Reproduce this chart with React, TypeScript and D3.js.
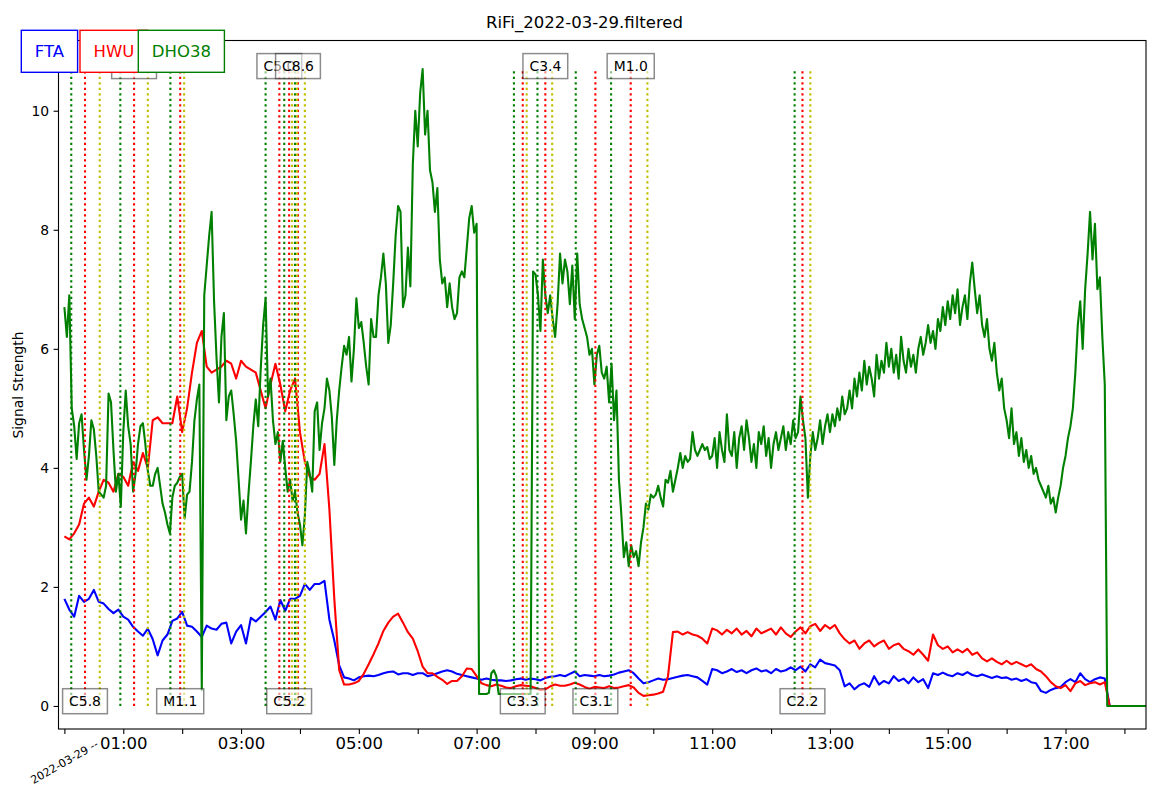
import React, { useEffect, useRef } from 'react';
import * as d3 from 'd3';

const WIDTH = 1169;
const HEIGHT = 792;

const DAY = '2022-03-29';

// FTA and HWU: one sample every 5 minutes from 00:00, one row per hour
const fta = [
  1.8, 1.62, 1.5, 1.85, 1.75, 1.8, 1.95, 1.75, 1.72, 1.63, 1.56, 1.62,
  1.5, 1.45, 1.33, 1.25, 1.18, 1.3, 1.12, 0.85, 1.1, 1.2, 1.43, 1.47,
  1.58, 1.35, 1.33, 1.25, 1.16, 1.35, 1.3, 1.28, 1.38, 1.4, 1.05, 1.25,
  1.36, 1.05, 1.48, 1.42, 1.5, 1.58, 1.67, 1.45, 1.78, 1.6, 1.8, 1.8,
  1.85, 2.05, 1.95, 2.05, 2.05, 2.1, 1.45, 1.1, 0.68, 0.48, 0.46, 0.43,
  0.48, 0.5, 0.51, 0.5, 0.52, 0.55, 0.57, 0.58, 0.53, 0.55, 0.55, 0.52,
  0.55, 0.55, 0.5, 0.52, 0.55, 0.58, 0.6, 0.58, 0.54, 0.52, 0.5, 0.48,
  0.46, 0.44, 0.46, 0.44, 0.43, 0.43, 0.42, 0.43, 0.45, 0.46, 0.44, 0.46,
  0.45, 0.43, 0.47, 0.49, 0.5, 0.52, 0.5, 0.54, 0.58, 0.5, 0.52, 0.51,
  0.5, 0.52, 0.5, 0.51, 0.53, 0.56, 0.58, 0.6, 0.55, 0.46, 0.38, 0.4,
  0.43, 0.46, 0.44, 0.45, 0.47, 0.49, 0.51, 0.52, 0.5, 0.48, 0.42, 0.36,
  0.62, 0.6, 0.55, 0.58, 0.62, 0.57, 0.6, 0.55, 0.6, 0.63, 0.58, 0.6,
  0.55, 0.62, 0.58, 0.6, 0.65, 0.6, 0.66, 0.58, 0.7, 0.65, 0.78, 0.72,
  0.7, 0.68, 0.6, 0.33, 0.38, 0.28, 0.35, 0.38, 0.32, 0.5, 0.36, 0.42,
  0.38, 0.5, 0.42, 0.46, 0.38, 0.48, 0.4, 0.45, 0.3, 0.55, 0.52, 0.56,
  0.52, 0.5, 0.55, 0.52, 0.57, 0.52, 0.5, 0.53, 0.5, 0.47, 0.5, 0.47,
  0.48, 0.44, 0.46, 0.42, 0.45, 0.4, 0.38, 0.25, 0.22, 0.27, 0.3, 0.32,
  0.4, 0.45, 0.4, 0.55, 0.45, 0.4, 0.45, 0.48, 0.46, 0, 0, 0,
  0, 0, 0, 0, 0, 0,
];

const hwu = [
  2.85, 2.8, 2.9, 3.05, 3.4, 3.5, 3.35, 3.6, 3.8, 3.75, 3.6, 3.9,
  3.85, 3.7, 4.1, 3.95, 4.25, 4.0, 4.8, 4.85, 4.75, 4.75, 4.75, 5.2,
  4.6, 5.0, 5.6, 6.1, 6.3, 5.7, 5.6, 5.65, 5.7, 5.8, 5.75, 5.5,
  5.8, 5.7, 5.65, 5.6, 5.3, 5.0, 5.4, 5.75, 5.4, 4.95, 5.3, 5.5,
  4.6, 4.1, 3.85, 3.8, 3.9, 4.4, 3.3, 1.8, 0.6, 0.36, 0.36, 0.38,
  0.42, 0.54, 0.7, 0.87, 1.05, 1.26, 1.4, 1.5, 1.55, 1.4, 1.24, 1.13,
  0.92, 0.66, 0.55, 0.55, 0.49, 0.44, 0.37, 0.42, 0.42, 0.5, 0.63, 0.62,
  0.5, 0.38, 0.35, 0.33, 0.36, 0.34, 0.31, 0.3, 0.33, 0.35, 0.34, 0.33,
  0.3, 0.27, 0.28, 0.33, 0.36, 0.34, 0.34, 0.36, 0.39, 0.36, 0.32, 0.29,
  0.32, 0.31, 0.3, 0.33, 0.3, 0.31, 0.33, 0.35, 0.31, 0.22, 0.17, 0.18,
  0.19, 0.21, 0.24, 0.5, 1.24, 1.25, 1.2, 1.24, 1.2, 1.18, 1.13, 1.05,
  1.3, 1.27, 1.2, 1.28, 1.22, 1.3, 1.2, 1.26, 1.17, 1.3, 1.22, 1.26,
  1.3, 1.2, 1.32, 1.22, 1.16, 1.25, 1.32, 1.22, 1.34, 1.38, 1.26, 1.36,
  1.3, 1.36, 1.22, 1.12, 1.05, 1.1, 0.96, 1.05, 1.1, 1.0, 1.06, 1.1,
  0.96, 1.02, 1.05, 0.96, 0.92, 0.86, 0.95, 0.86, 0.76, 1.2, 1.02, 0.96,
  1.0, 0.9, 0.95, 0.9, 0.96, 0.86, 0.9, 0.8, 0.75, 0.8, 0.74, 0.7,
  0.76, 0.7, 0.74, 0.7, 0.66, 0.7, 0.62, 0.58, 0.5, 0.4, 0.33, 0.3,
  0.35, 0.25, 0.38, 0.42, 0.35, 0.38, 0.4, 0.36, 0.4, 0, 0, 0,
  0, 0, 0, 0, 0, 0,
];

// DHO38: one sample every 2.5 minutes from 00:00, one row per hour
const dho38 = [
  6.7, 6.2, 6.9, 5.0, 4.7, 4.15, 4.75, 4.9, 4.3, 3.8, 4.2, 4.8, 4.65, 4.2, 3.6, 3.55, 3.5, 3.7, 5.25, 5.1, 4.3, 3.6, 3.9, 3.35,
  4.6, 5.3, 4.7, 4.4, 3.6, 3.9, 4.4, 4.7, 4.75, 4.4, 3.95, 3.7, 3.7, 3.9, 4.0, 3.7, 3.4, 3.25, 3.05, 2.9, 3.5, 3.7, 3.75, 3.85,
  3.9, 3.15, 3.55, 3.6, 4.1, 4.8, 5.15, 5.4, 0.27, 6.9, 7.4, 7.9, 8.3, 6.8, 5.85, 5.1, 6.2, 6.6, 4.8, 5.2, 5.3, 4.9, 4.45, 3.8,
  3.13, 3.45, 2.9, 3.55, 4.1, 4.7, 5.15, 4.7, 5.65, 6.4, 6.85, 5.2, 5.5, 4.8, 4.4, 4.6, 4.1, 4.45, 4.0, 3.6, 3.8, 3.45, 3.6, 3.25,
  3.05, 2.7, 3.2, 4.1, 3.9, 3.6, 4.95, 5.1, 4.3, 4.75, 5.0, 5.5, 5.3, 4.85, 4.05, 4.8, 5.3, 5.7, 6.05, 5.9, 6.2, 5.45, 6.0, 6.85,
  6.35, 6.45, 6.1, 5.7, 5.4, 6.5, 6.2, 6.2, 6.9, 7.2, 7.6, 7.1, 6.1, 6.4, 7.1, 7.9, 8.4, 8.3, 6.7, 6.9, 7.7, 7.05, 9.1, 10.0,
  9.4, 10.3, 10.7, 9.6, 10.0, 9.0, 8.8, 8.3, 8.7, 7.5, 7.1, 7.2, 6.7, 7.1, 6.7, 6.5, 6.6, 7.2, 7.3, 7.2, 7.7, 8.2, 8.4, 7.95,
  8.1, 0.2, 0.2, 0.2, 0.2, 0.22, 0.55, 0.6, 0.5, 0.2, 0.2, 0.2, 0.2, 0.2, 0.2, 0.2, 0.2, 0.2, 0.2, 0.2, 0.2, 0.2, 0.2, 7.3,
  7.25, 6.9, 6.3, 7.5, 6.9, 6.6, 6.9, 6.5, 6.2, 6.75, 7.6, 7.1, 7.5, 7.3, 6.75, 7.4, 6.5, 7.6, 6.75, 6.5, 6.35, 6.2, 5.9, 6.0,
  5.4, 5.9, 6.05, 5.6, 5.5, 5.7, 5.1, 5.75, 4.8, 5.3, 3.8, 3.2, 2.5, 2.75, 2.35, 2.7, 2.5, 2.6, 2.35, 2.75, 3.0, 3.4, 3.3, 3.55,
  3.5, 3.55, 3.7, 3.5, 3.35, 3.8, 3.75, 3.95, 3.6, 3.8, 4.0, 4.25, 4.0, 4.2, 4.1, 4.15, 4.6, 4.3, 4.2, 4.3, 4.4, 4.3, 4.35, 4.15,
  4.2, 4.5, 4.0, 4.6, 4.3, 4.1, 4.9, 4.3, 4.2, 4.6, 4.0, 4.5, 4.7, 4.3, 4.8, 4.5, 4.1, 4.4, 4.0, 4.6, 4.4, 4.7, 4.2, 4.5,
  4.0, 4.4, 4.6, 4.3, 4.5, 4.7, 4.3, 4.6, 4.4, 4.8, 4.5, 4.6, 5.2, 4.8, 4.5, 3.5, 4.2, 4.6, 4.3, 4.5, 4.8, 4.4, 4.7, 4.9,
  4.6, 4.9, 4.7, 5.0, 4.8, 5.2, 4.9, 5.0, 5.3, 5.0, 5.5, 5.2, 5.6, 5.3, 5.8, 5.4, 5.7, 5.5, 5.2, 5.9, 5.5, 5.8, 5.6, 6.1,
  5.7, 6.0, 5.6, 5.9, 5.5, 6.2, 5.8, 5.6, 6.0, 5.7, 5.9, 5.6, 6.0, 6.2, 5.9, 6.1, 6.4, 6.1, 6.3, 6.0, 6.5, 6.3, 6.7, 6.4,
  6.8, 6.5, 6.9, 6.6, 7.0, 6.4, 6.7, 6.9, 6.5, 7.1, 7.45, 7.0, 6.6, 6.9, 6.4, 6.2, 6.5, 6.0, 5.8, 6.1, 5.6, 5.3, 5.5, 5.0,
  4.8, 4.5, 5.0, 4.4, 4.6, 4.2, 4.5, 4.1, 4.3, 4.0, 4.2, 3.9, 4.0, 3.8, 3.7, 3.6, 3.5, 3.7, 3.4, 3.5, 3.25, 3.5, 3.7, 4.0,
  4.2, 4.5, 4.7, 5.0, 5.6, 6.4, 6.8, 6.0, 7.0, 7.6, 8.3, 7.5, 8.1, 7.0, 7.2, 6.2, 5.4, 0, 0, 0, 0, 0, 0, 0,
  0, 0, 0, 0, 0, 0, 0, 0, 0, 0, 0,
];

const seriesNames = ['FTA', 'HWU', 'DHO38'];
const seriesColors = ['#0000ff', '#ff0000', '#008000'];
const seriesStepMin = [5, 5, 2.5];

// flares: start (green), peak (red), end (yellow)
const flareClass = ['C5.8', 'C4.1', 'M1.1', 'C5.0', 'C5.2', 'C8.6', 'C3.3', 'C3.4', 'C3.1', 'M1.0', 'C2.2'];
const flareStart = ['00:07', '00:57', '01:48', '03:25', '03:44', '03:55', '07:38', '08:02', '08:41', '09:17', '12:24'];
const flarePeak = ['00:21', '01:11', '01:58', '03:39', '03:49', '03:58', '07:47', '08:10', '09:01', '09:37', '12:32'];
const flareEnd = ['00:36', '01:25', '02:02', '03:52', '03:57', '04:05', '07:51', '08:17', '', '09:54', '12:40'];
const flareOnTop = [false, true, false, true, false, true, false, true, false, true, false];

const yTicks = [0, 2, 4, 6, 8, 10];

export default function App() {
  const svgRef = useRef<SVGSVGElement>(null);

  useEffect(() => {
    if (!svgRef.current) return;
    const svg = d3.select(svgRef.current);
    svg.selectAll('*').remove();

    const font = 'DejaVu Sans, sans-serif';
    const left = 58.5, right = 1146, top = 40.5, bottom = 729;

    const parse = d3.utcParse('%Y-%m-%d %H:%M');
    const at = (hm: string) => parse(`${DAY} ${hm}`) as Date;
    const t0 = at('00:00');

    const x = d3.scaleUtc()
      .domain([d3.utcMinute.offset(t0, -6), d3.utcMinute.offset(t0, 1102)])
      .range([left, right]);
    const y = d3.scaleLinear().domain([-0.387, 11.18]).range([bottom, top]);

    svg.append('rect').attr('width', WIDTH).attr('height', HEIGHT).attr('fill', '#fff');

    svg.append('defs').append('clipPath').attr('id', 'plot-clip')
      .append('rect')
      .attr('x', left).attr('y', top)
      .attr('width', right - left).attr('height', bottom - top);

    const plot = svg.append('g').attr('clip-path', 'url(#plot-clip)');

    // Signal lines
    [fta, hwu, dho38].forEach((values, k) => {
      const step = seriesStepMin[k] * 60000;
      const line = d3.line<number>()
        .x((_, i) => x(new Date(+t0 + i * step)))
        .y(d => y(d));
      plot.append('path')
        .datum(values)
        .attr('fill', 'none')
        .attr('stroke', seriesColors[k])
        .attr('stroke-width', 2.1)
        .attr('stroke-linejoin', 'round')
        .attr('d', line);
    });

    // Flare markers
    const vTop = 10.7;
    const markers: [string[], string][] = [
      [flareStart, '#008000'],
      [flarePeak, '#ff0000'],
      [flareEnd, '#bfbf00'],
    ];
    markers.forEach(([times, color]) => {
      times.filter(t => t !== '').forEach(t => {
        const px = x(at(t));
        plot.append('line')
          .attr('x1', px).attr('x2', px)
          .attr('y1', y(0)).attr('y2', y(vTop))
          .attr('stroke', color)
          .attr('stroke-width', 2.1)
          .attr('stroke-dasharray', '2.1 3.4');
      });
    });

    // Flare labels
    flareClass.forEach((name, i) => {
      const g = svg.append('g')
        .attr('transform', `translate(${x(at(flarePeak[i]))},${y(flareOnTop[i] ? 10.75 : 0.08)})`);
      const rect = g.append('rect');
      const text = g.append('text')
        .attr('text-anchor', 'middle')
        .attr('dy', '0.36em')
        .attr('font-family', font)
        .attr('font-size', 13.9)
        .attr('fill', '#000')
        .text(name);
      const w = (text.node() as SVGTextElement).getComputedTextLength() + 13;
      rect.attr('x', -w / 2).attr('y', -12.5)
        .attr('width', w).attr('height', 25)
        .attr('fill', '#fff').attr('fill-opacity', 0.55)
        .attr('stroke', '#000').attr('stroke-opacity', 0.45)
        .attr('stroke-width', 1.5);
      rect.lower();
    });

    // Axes
    const xAxis = svg.append('g')
      .attr('transform', `translate(0,${bottom})`)
      .call(
        d3.axisBottom(x)
          .ticks(d3.utcHour.every(1))
          .tickSize(4.9)
          .tickSizeOuter(0)
          .tickPadding(3)
          .tickFormat(d => {
            const h = (d as Date).getUTCHours();
            return h % 2 === 1 ? d3.utcFormat('%H:%M')(d as Date) : '';
          })
      );
    xAxis.select('.domain').remove();
    xAxis.attr('font-family', font).attr('font-size', 16.5).attr('color', '#000');
    xAxis.selectAll('line').attr('stroke-width', 1.1);

    svg.append('text')
      .attr('transform', `translate(${x(t0)},762) rotate(-30)`)
      .attr('text-anchor', 'middle')
      .attr('dy', '0.35em')
      .attr('font-family', font)
      .attr('font-size', 11.1)
      .text(`${DAY} --`);

    const yAxis = svg.append('g')
      .attr('transform', `translate(${left},0)`)
      .call(
        d3.axisLeft(y)
          .tickValues(yTicks)
          .tickSize(4.9)
          .tickSizeOuter(0)
          .tickPadding(4.5)
          .tickFormat(d3.format('d'))
      );
    yAxis.select('.domain').remove();
    yAxis.attr('font-family', font).attr('font-size', 13.9).attr('color', '#000');
    yAxis.selectAll('line').attr('stroke-width', 1.1);

    svg.append('rect')
      .attr('x', left).attr('y', top)
      .attr('width', right - left).attr('height', bottom - top)
      .attr('fill', 'none')
      .attr('stroke', '#000')
      .attr('stroke-width', 1.1);

    svg.append('text')
      .attr('transform', 'translate(23,385) rotate(-90)')
      .attr('text-anchor', 'middle')
      .attr('font-family', font)
      .attr('font-size', 13.9)
      .text('Signal Strength');

    svg.append('text')
      .attr('x', WIDTH / 2)
      .attr('y', 28)
      .attr('text-anchor', 'middle')
      .attr('font-family', font)
      .attr('font-size', 16.5)
      .text(`RiFi_${DAY}.filtered`);

    // Legend boxes, one per station
    const legendLeft = [21.3, 80, 138.3];
    seriesNames.forEach((name, k) => {
      const g = svg.append('g').attr('transform', `translate(${legendLeft[k]},30.3)`);
      const rect = g.append('rect');
      const text = g.append('text')
        .attr('y', 27)
        .attr('font-family', font)
        .attr('font-size', 16.5)
        .attr('fill', seriesColors[k])
        .attr('text-anchor', 'middle')
        .text(name);
      const w = (text.node() as SVGTextElement).getComputedTextLength() + 27;
      text.attr('x', w / 2);
      rect.attr('width', w).attr('height', 42)
        .attr('fill', '#fff')
        .attr('stroke', seriesColors[k])
        .attr('stroke-width', 1.4);
    });
  }, []);

  return (
    <svg
      ref={svgRef}
      width={WIDTH}
      height={HEIGHT}
      style={{ position: 'absolute', left: 0, top: 0, display: 'block' }}
    />
  );
}
